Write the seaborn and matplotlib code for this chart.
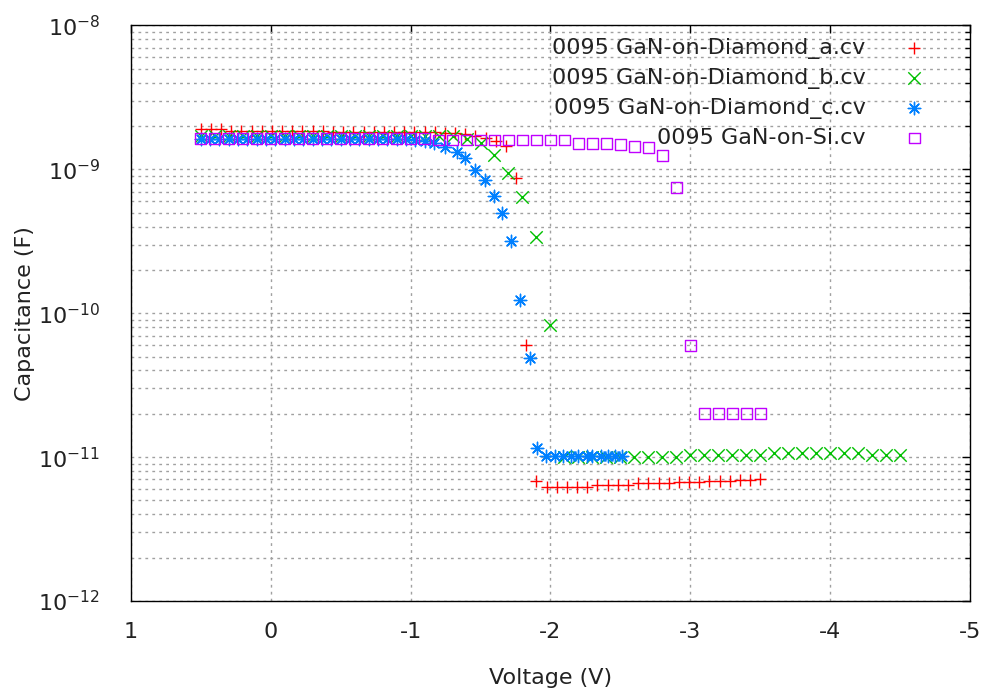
import matplotlib
matplotlib.use("Agg")
import matplotlib.pyplot as plt
import seaborn as sns
import numpy as np
from matplotlib.ticker import FixedLocator, LogLocator, NullFormatter

# ---- data (voltage in V, capacitance in F) ----
volt_a = [0.5, 0.427, 0.355, 0.282, 0.209, 0.136, 0.064, -0.009, -0.082, -0.155,
          -0.227, -0.3, -0.373, -0.445, -0.518, -0.591, -0.664, -0.736, -0.809, -0.882,
          -0.955, -1.027, -1.1, -1.173, -1.245, -1.318, -1.391, -1.464, -1.536, -1.609,
          -1.682, -1.755, -1.827, -1.9, -1.973, -2.045, -2.118, -2.191, -2.264, -2.336,
          -2.409, -2.482, -2.555, -2.627, -2.7, -2.773, -2.845, -2.918, -2.991, -3.064,
          -3.136, -3.209, -3.282, -3.355, -3.427, -3.5]
cap_a = [1.92e-9, 1.92e-9, 1.92e-9, 1.85e-9, 1.85e-9, 1.85e-9, 1.85e-9, 1.85e-9, 1.85e-9, 1.85e-9,
         1.85e-9, 1.85e-9, 1.85e-9, 1.82e-9, 1.82e-9, 1.82e-9, 1.82e-9, 1.82e-9, 1.82e-9, 1.82e-9,
         1.82e-9, 1.82e-9, 1.82e-9, 1.82e-9, 1.8e-9, 1.8e-9, 1.75e-9, 1.7e-9, 1.65e-9, 1.58e-9,
         1.45e-9, 8.7e-10, 6.0e-11, 6.8e-12, 6.2e-12, 6.2e-12, 6.2e-12, 6.2e-12, 6.2e-12, 6.4e-12,
         6.4e-12, 6.4e-12, 6.4e-12, 6.6e-12, 6.6e-12, 6.6e-12, 6.6e-12, 6.7e-12, 6.7e-12, 6.7e-12,
         6.8e-12, 6.8e-12, 6.8e-12, 6.9e-12, 6.9e-12, 7.1e-12]

volt_b = [0.5, 0.4, 0.3, 0.2, 0.1, 0.0, -0.1, -0.2, -0.3, -0.4,
          -0.5, -0.6, -0.7, -0.8, -0.9, -1.0, -1.1, -1.2, -1.3, -1.4,
          -1.5, -1.6, -1.7, -1.8, -1.9, -2.0, -2.1, -2.2, -2.3, -2.4,
          -2.5, -2.6, -2.7, -2.8, -2.9, -3.0, -3.1, -3.2, -3.3, -3.4,
          -3.5, -3.6, -3.7, -3.8, -3.9, -4.0, -4.1, -4.2, -4.3, -4.4, -4.5]
cap_b = [1.7e-9, 1.7e-9, 1.7e-9, 1.7e-9, 1.7e-9, 1.7e-9, 1.7e-9, 1.7e-9, 1.7e-9, 1.7e-9,
         1.7e-9, 1.7e-9, 1.7e-9, 1.7e-9, 1.7e-9, 1.7e-9, 1.7e-9, 1.7e-9, 1.7e-9, 1.62e-9,
         1.52e-9, 1.26e-9, 9.5e-10, 6.4e-10, 3.4e-10, 8.3e-11, 1.0e-11, 1.0e-11, 1.0e-11, 1.0e-11,
         1.0e-11, 1.0e-11, 1.0e-11, 1.0e-11, 1.0e-11, 1.03e-11, 1.03e-11, 1.03e-11, 1.03e-11, 1.03e-11,
         1.03e-11, 1.06e-11, 1.06e-11, 1.06e-11, 1.06e-11, 1.06e-11, 1.06e-11, 1.06e-11, 1.03e-11, 1.03e-11, 1.03e-11]

volt_c = [0.5, 0.433, 0.367, 0.3, 0.233, 0.167, 0.1, 0.033, -0.033, -0.1,
          -0.167, -0.233, -0.3, -0.367, -0.433, -0.5, -0.567, -0.633, -0.7, -0.767,
          -0.833, -0.9, -0.967, -1.033, -1.1, -1.167, -1.249, -1.332, -1.391, -1.458,
          -1.529, -1.593, -1.652, -1.719, -1.783, -1.854, -1.906, -1.97, -2.03, -2.09,
          -2.15, -2.2, -2.26, -2.3, -2.36, -2.41, -2.46, -2.51]
cap_c = [1.62e-9, 1.62e-9, 1.62e-9, 1.62e-9, 1.62e-9, 1.62e-9, 1.62e-9, 1.62e-9, 1.62e-9, 1.62e-9,
         1.62e-9, 1.62e-9, 1.62e-9, 1.62e-9, 1.62e-9, 1.62e-9, 1.62e-9, 1.62e-9, 1.62e-9, 1.62e-9,
         1.62e-9, 1.62e-9, 1.62e-9, 1.6e-9, 1.57e-9, 1.52e-9, 1.44e-9, 1.32e-9, 1.19e-9, 9.9e-10,
         8.5e-10, 6.5e-10, 4.95e-10, 3.2e-10, 1.24e-10, 4.9e-11, 1.15e-11, 1.02e-11, 1.02e-11, 1.02e-11,
         1.02e-11, 1.02e-11, 1.02e-11, 1.02e-11, 1.02e-11, 1.02e-11, 1.02e-11, 1.02e-11]

volt_si = [0.5, 0.4, 0.3, 0.2, 0.1, 0.0, -0.1, -0.2, -0.3, -0.4,
           -0.5, -0.6, -0.7, -0.8, -0.9, -1.0, -1.1, -1.2, -1.3, -1.4,
           -1.5, -1.6, -1.7, -1.8, -1.9, -2.0, -2.1, -2.2, -2.3, -2.4,
           -2.5, -2.6, -2.7, -2.8, -2.9, -3.0, -3.1, -3.2, -3.3, -3.4, -3.5]
cap_si = [1.63e-9, 1.63e-9, 1.63e-9, 1.63e-9, 1.63e-9, 1.63e-9, 1.63e-9, 1.63e-9, 1.63e-9, 1.63e-9,
          1.63e-9, 1.63e-9, 1.63e-9, 1.63e-9, 1.63e-9, 1.63e-9, 1.63e-9, 1.6e-9, 1.6e-9, 1.6e-9,
          1.6e-9, 1.6e-9, 1.6e-9, 1.6e-9, 1.6e-9, 1.6e-9, 1.6e-9, 1.52e-9, 1.52e-9, 1.52e-9,
          1.48e-9, 1.44e-9, 1.42e-9, 1.25e-9, 7.5e-10, 6.0e-11, 2.0e-11, 2.0e-11, 2.0e-11, 2.0e-11, 2.0e-11]

labels = ["0095 GaN-on-Diamond_a.cv", "0095 GaN-on-Diamond_b.cv",
          "0095 GaN-on-Diamond_c.cv", "0095 GaN-on-Si.cv"]
x_ticks = [1, 0, -1, -2, -3, -4, -5]
x_tick_labels = ["1", "0", "-1", "-2", "-3", "-4", "-5"]
y_ticks = [1e-12, 1e-11, 1e-10, 1e-9, 1e-8]
y_tick_labels = [r"$10^{-12}$", r"$10^{-11}$", r"$10^{-10}$", r"$10^{-9}$", r"$10^{-8}$"]

# ---- style ----
sns.set_theme(style="white")
plt.rcParams["font.family"] = ["DejaVu Sans"]
plt.rcParams["axes.unicode_minus"] = False
plt.rcParams["mathtext.fontset"] = "dejavusans"
FS = 16
TXT = "#222222"

fig, ax = plt.subplots(figsize=(9.82, 6.96), dpi=100)
fig.subplots_adjust(left=0.1331, right=0.988, top=0.9634, bottom=0.1365)

series = [
    (volt_a, cap_a, labels[0], "#ff0000", "+"),
    (volt_b, cap_b, labels[1], "#00c000", "x"),
    (volt_c, cap_c, labels[2], "#0080ff", (8, 2, 0)),
]
for v, c, lab, col, mk in series:
    sns.scatterplot(x=v, y=c, ax=ax, marker=mk, color=col, s=80, linewidth=1.0,
                    label=lab, zorder=3)
sns.scatterplot(x=volt_si, y=cap_si, ax=ax, marker="s", color="#c000ff",
                facecolor="none", edgecolor="#c000ff", s=60, linewidth=1.0,
                label=labels[3], zorder=3)

ax.set_yscale("log")
ax.set_xlim(1, -5)
ax.set_ylim(1e-12, 1e-8)
ax.xaxis.set_major_locator(FixedLocator(x_ticks))
ax.set_xticklabels(x_tick_labels)
ax.yaxis.set_major_locator(FixedLocator(y_ticks))
ax.set_yticklabels(y_tick_labels)
ax.yaxis.set_minor_locator(LogLocator(base=10, subs=np.arange(2, 10), numticks=20))
ax.yaxis.set_minor_formatter(NullFormatter())

grid_kw = dict(color="#a0a0a0", linestyle=(0, (2, 3)), linewidth=1.0)
ax.grid(which="major", axis="both", **grid_kw)
ax.grid(which="minor", axis="y", **grid_kw)
ax.set_axisbelow(True)

for sp in ax.spines.values():
    sp.set_color("black")
    sp.set_linewidth(1.0)
ax.tick_params(which="both", direction="in", top=True, right=True, colors="black",
               labelcolor=TXT)
ax.tick_params(which="major", length=6, width=1, labelsize=FS)
ax.tick_params(axis="x", which="major", pad=15)
ax.tick_params(axis="y", which="major", pad=22)
ax.tick_params(which="minor", length=3.5, width=1)

ax.set_xlabel("Voltage (V)", fontsize=FS, color=TXT, labelpad=19)
ax.set_ylabel("Capacitance (F)", fontsize=FS, color=TXT, labelpad=2)

# gnuplot-style key: right-aligned text, sample marker on the right
leg = ax.legend(loc="upper right", bbox_to_anchor=(0.972, 0.978), frameon=False,
                markerfirst=False, fontsize=FS, handlelength=2.9, handletextpad=0.75,
                labelspacing=0.4, borderpad=0, borderaxespad=0, scatterpoints=1)
for t in leg.get_texts():
    t.set_color(TXT)
for col in leg._legend_handle_box.get_children():
    col.align = "right"

fig.savefig("out.png", dpi=100)
